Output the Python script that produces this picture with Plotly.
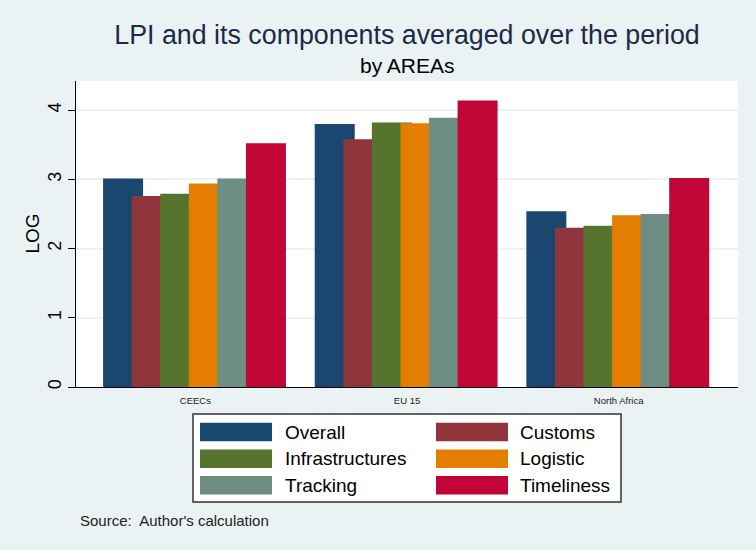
import plotly.graph_objects as go

areas = ["CEECs", "EU 15", "North Africa"]
series_names = ["Overall", "Customs", "Infrastructures", "Logistic", "Tracking", "Timeliness"]
overall = [3.01, 3.80, 2.54]
customs = [2.76, 3.58, 2.30]
infrastructures = [2.79, 3.82, 2.33]
logistic = [2.94, 3.81, 2.48]
tracking = [3.01, 3.89, 2.50]
timeliness = [3.52, 4.14, 3.02]
y_ticks = [0, 1, 2, 3, 4]
colors = ["#1a476f", "#90353b", "#55752f", "#e37e00", "#6e8e84", "#c10534"]

values = [overall, customs, infrastructures, logistic, tracking, timeliness]

W, H = 756, 550
ML, MR, MT, MB = 76, 18, 81, 163
PW = W - ML - MR
PH = H - MT - MB
FONT = "Liberation Sans, Arial, sans-serif"


def px(x):
    return (x - ML) / PW


def py(y):
    return (H - MB - y) / PH


fig = go.Figure()
bar_w = 0.189
step = 0.135
start = -0.436
for i, (name, vals, col) in enumerate(zip(series_names, values, colors)):
    fig.add_trace(go.Bar(
        x=areas, y=vals, name=name,
        marker=dict(color=col, line=dict(width=0)),
        width=bar_w, offset=start + i * step,
        showlegend=False,
    ))

shapes = []
annotations = []

# custom legend box
shapes.append(dict(type="rect", xref="paper", yref="paper",
                   x0=px(193), x1=px(621), y0=py(414), y1=py(502),
                   fillcolor="white", line=dict(color="#333333", width=1.5), layer="above"))
for i, (name, col) in enumerate(zip(series_names, colors)):
    c = i % 2
    r = i // 2
    sx0 = 200 + c * 236
    sy0 = 422.7 + r * 26.7
    shapes.append(dict(type="rect", xref="paper", yref="paper",
                       x0=px(sx0), x1=px(sx0 + 72), y0=py(sy0), y1=py(sy0 + 18.5),
                       fillcolor=col, line=dict(width=0), layer="above"))
    annotations.append(dict(xref="paper", yref="paper", x=px(283 + c * 235), y=py(sy0 + 9.5),
                            text=name, showarrow=False, xanchor="left", yanchor="middle",
                            font=dict(family=FONT, size=19, color="black")))

annotations.append(dict(xref="paper", yref="paper", x=px(78), y=py(520.5),
                        text="Source:  Author's calculation", showarrow=False,
                        xanchor="left", yanchor="middle",
                        font=dict(family=FONT, size=15, color="#222222")))
annotations.append(dict(xref="paper", yref="paper", x=px(407), y=py(66),
                        text="by AREAs", showarrow=False,
                        xanchor="center", yanchor="middle",
                        font=dict(family=FONT, size=21, color="black")))
annotations.append(dict(xref="paper", yref="paper", x=px(31.5), y=py(234),
                        text="LOG", showarrow=False, textangle=-90,
                        xanchor="center", yanchor="middle",
                        font=dict(family=FONT, size=19, color="black")))

fig.update_layout(
    width=W, height=H,
    margin=dict(l=ML, r=MR, t=MT, b=MB, autoexpand=False),
    paper_bgcolor="#eaf2f3",
    plot_bgcolor="white",
    barmode="overlay",
    title=dict(text="LPI and its components averaged over the period",
               x=0.5, xref="paper", xanchor="center",
               y=1 - 35 / H, yref="container", yanchor="middle",
               font=dict(family=FONT, size=26.8, color="#1c2a4a")),
    shapes=shapes,
    annotations=annotations,
    showlegend=False,
)
fig.update_xaxes(
    range=[-0.564, 2.564],
    showline=True, linecolor="black", linewidth=1,
    ticks="", showgrid=False, ticklabelstandoff=5,
    tickfont=dict(family=FONT, size=9.5, color="#222222"),
)
fig.update_yaxes(
    range=[0, 4.42],
    tickvals=y_ticks,
    showline=True, linecolor="black", linewidth=1,
    ticks="outside", ticklen=7, tickcolor="black", tickwidth=1,
    tickangle=-90,
    tickfont=dict(family=FONT, size=18, color="black"),
    showgrid=True, gridcolor="#eaf2f3", gridwidth=2,
    zeroline=False,
)

fig.write_html("out.html", config={"displayModeBar": False},
               post_script="document.body.style.margin='0';")
